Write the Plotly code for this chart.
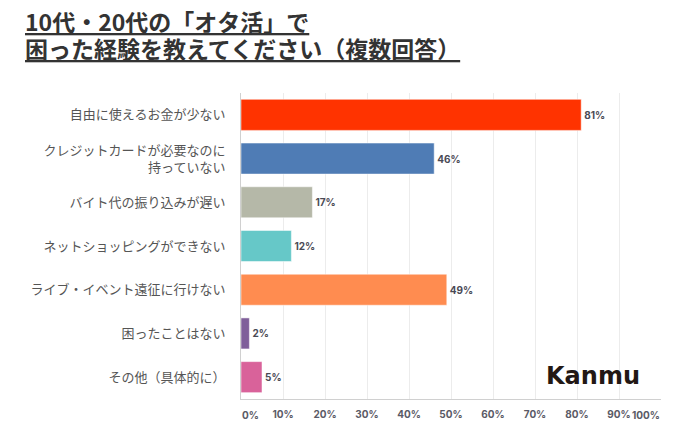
import plotly.graph_objects as go

categories = [
    "自由に使えるお金が少ない",
    "クレジットカードが必要なのに<br>持っていない",
    "バイト代の振り込みが遅い",
    "ネットショッピングができない",
    "ライブ・イベント遠征に行けない",
    "困ったことはない",
    "その他（具体的に）",
]
values = [81, 46, 17, 12, 49, 2, 5]
colors = ["#FF3300", "#4F7CB5", "#B5B8A8", "#66C8C8", "#FF8C50", "#7F5F9A", "#D9629A"]
tick_vals = [0, 10, 20, 30, 40, 50, 60, 70, 80, 90, 100]
tick_text = [f"{v}%" for v in tick_vals]
title_lines = ["10代・20代の「オタ活」で", "困った経験を教えてください（複数回答）"]

FONT = "Noto Sans CJK JP"
NUMFONT = "Inter, Noto Sans"

# page body has an 8px default margin; figure coordinates are screen - 8
OFF = 8
W, H = 700 - 2 * OFF, 445 - 2 * OFF
L, T = 241 - OFF, 93 - OFF
PW, PH = 420, 306
R, B = W - L - PW, H - T - PH


def px_x(x):
    return (x - OFF - L) / PW


def px_y(y):
    return (T + PH - (y - OFF)) / PH


fig = go.Figure()
fig.add_trace(go.Bar(
    y=categories, x=values, orientation="h",
    marker=dict(color=colors, line=dict(color="rgba(255,255,255,0.5)", width=1)),
    text=[f"{v}%" for v in values], textposition="outside",
    textfont=dict(family=NUMFONT, size=10, color="#4a4a55", weight="bold"),
    cliponaxis=False,
))

fig.update_layout(
    width=W, height=H,
    margin=dict(l=L, r=R, t=T, b=B),
    paper_bgcolor="white", plot_bgcolor="white",
    showlegend=False,
    bargap=0.29,
    font=dict(family=FONT),
    xaxis=dict(
        range=[0, 100], tickvals=tick_vals[1:-1], ticktext=tick_text[1:-1],
        showgrid=True, gridcolor="#ececec", gridwidth=1,
        zeroline=False, showline=True, linecolor="#d0d0d0", linewidth=1,
        tickfont=dict(family=NUMFONT, size=10, color="#5a5a66", weight="bold"),
        ticks="", ticklabelstandoff=6, fixedrange=True, automargin=False,
    ),
    yaxis=dict(
        categoryorder="array", categoryarray=categories[::-1],
        autorange=False, range=[-0.5, 6.5],
        showline=True, linecolor="#d0d0d0", linewidth=1,
        tickfont=dict(family=FONT, size=13, color="#555555"),
        ticks="", ticklabelstandoff=12, showgrid=False, automargin=False,
    ),
)

axfont = dict(family=NUMFONT, size=10, color="#5a5a66", weight="bold")
fig.add_annotation(x=0, y=0, xref="x", yref="paper", text=tick_text[0], showarrow=False,
                   xanchor="left", yanchor="top", yshift=-8, xshift=-1, font=axfont)
fig.add_annotation(x=100, y=0, xref="x", yref="paper", text=tick_text[-1], showarrow=False,
                   xanchor="right", yanchor="top", yshift=-8, xshift=1, font=axfont)

# title (two lines)
for i, line in enumerate(title_lines):
    fig.add_annotation(
        x=px_x(24), y=px_y(21 + 27 * i), xref="paper", yref="paper",
        xanchor="left", yanchor="middle", align="left", showarrow=False,
        borderpad=0,
        text=f"<b><u>{line}</u></b>",
        font=dict(family=FONT, size=23, color="#333333"),
    )

# logo
fig.add_annotation(
    x=px_x(593), y=px_y(376), xref="paper", yref="paper",
    xanchor="center", yanchor="middle", showarrow=False,
    text="<b>Kanmu</b>",
    font=dict(family="DejaVu Sans", size=24, color="#231815"),
)

fig.write_html("out.html")
